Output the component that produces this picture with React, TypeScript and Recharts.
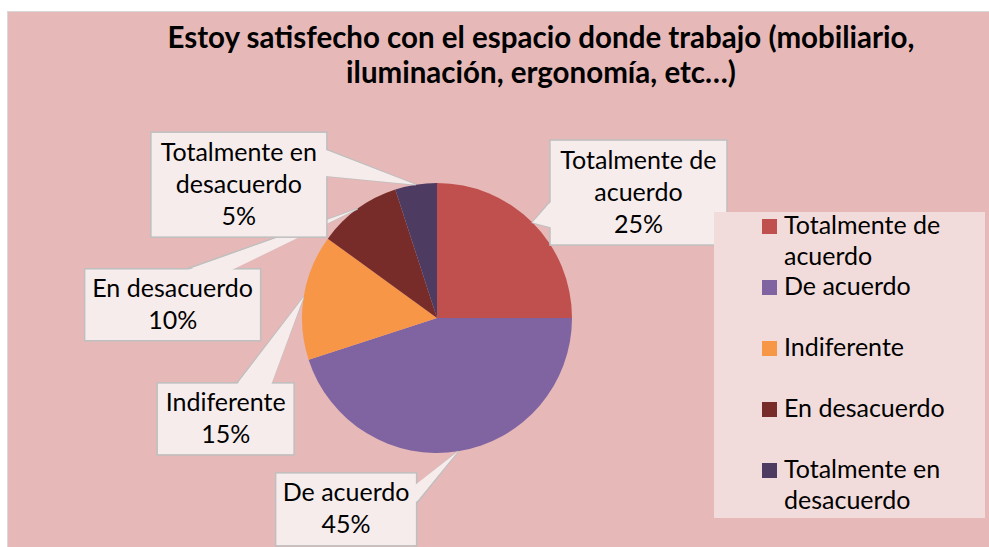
import { PieChart, Pie, Cell, Legend } from 'recharts';

const categories = ['Totalmente de acuerdo', 'De acuerdo', 'Indiferente', 'En desacuerdo', 'Totalmente en desacuerdo'];
const values = [25, 45, 15, 10, 5];
const categoryLines = [['Totalmente de', 'acuerdo'], ['De acuerdo'], ['Indiferente'], ['En desacuerdo'], ['Totalmente en', 'desacuerdo']];
const colors = ['#C0504D', '#8064A2', '#F79646', '#772C2A', '#4D3B62'];
const titleLines = ['Estoy satisfecho con el espacio donde trabajo (mobiliario,', 'iluminación, ergonomía, etc…)'];

const data = categories.map((name, i) => ({ name, value: values[i] }));

// callout box placement relative to the point on the slice edge
const callouts = [
  { dx: 106, dy: -30, w: 177, h: 105, side: 'left', at: 0.583 },
  { dx: -112, dy: 58, w: 141, h: 73, side: 'right', at: 0.167 },
  { dx: -78, dy: 122, w: 137, h: 72, side: 'top', at: 0.583 },
  { dx: -185, dy: 96, w: 176, h: 72, side: 'top', at: 0.583 },
  { dx: -177, dy: 0, w: 176, h: 105, side: 'right', at: 0.167 },
];

const FONT = 'Lato, "Open Sans", sans-serif';
const RAD = Math.PI / 180;
const BOX_FILL = '#F6ECEC';
const BOX_STROKE = '#BFBFBF';

function renderLabel(props: any) {
  const { cx, cy, midAngle, outerRadius, index, percent } = props;
  const tx = cx + outerRadius * Math.cos(-midAngle * RAD);
  const ty = cy + outerRadius * Math.sin(-midAngle * RAD);
  const c = callouts[index];
  const left = tx + c.dx - c.w / 2;
  const top = ty + c.dy - c.h / 2;
  let b1: number[], b2: number[], i1: number[], i2: number[];
  if (c.side === 'left') {
    const y1 = top + c.at * c.h, y2 = top + (c.at + 0.25) * c.h;
    b1 = [left, y1]; b2 = [left, y2]; i1 = [left + 1.5, y1]; i2 = [left + 1.5, y2];
  } else if (c.side === 'right') {
    const y1 = top + c.at * c.h, y2 = top + (c.at + 0.25) * c.h;
    b1 = [left + c.w, y1]; b2 = [left + c.w, y2]; i1 = [left + c.w - 1.5, y1]; i2 = [left + c.w - 1.5, y2];
  } else {
    const x1 = left + c.at * c.w, x2 = left + (c.at + 0.25) * c.w;
    b1 = [x1, top]; b2 = [x2, top]; i1 = [x1, top + 1.5]; i2 = [x2, top + 1.5];
  }
  const lines = [...categoryLines[index], `${Math.round(percent * 100)}%`];
  const midY = top + c.h / 2;
  return (
    <g key={`callout-${index}`}>
      <polygon points={`${tx},${ty} ${b1.join(',')} ${b2.join(',')}`} fill={BOX_FILL} stroke={BOX_STROKE} strokeWidth={1.5} />
      <rect x={left} y={top} width={c.w} height={c.h} fill={BOX_FILL} stroke={BOX_STROKE} strokeWidth={1.5} />
      <polygon points={`${tx},${ty} ${i1.join(',')} ${i2.join(',')}`} fill={BOX_FILL} stroke="none" />
      {lines.map((ln, k) => (
        <text key={k} x={left + c.w / 2} y={midY + 8 + (k - (lines.length - 1) / 2) * 32}
          textAnchor="middle" fontFamily={FONT} fontSize={25} fill="#000">{ln}</text>
      ))}
    </g>
  );
}

// legend drawn in a slightly taller svg so the text boxes stay inside it
function LegendBox() {
  const pad = 12;
  return (
    <svg width={271} height={306 + 2 * pad} style={{ display: 'block', overflow: 'visible' }}>
      <rect x={0} y={pad} width={271} height={306} fill="#F2DCDB" />
      {categories.map((name, i) => {
        const top = pad + 7 + i * 61;
        return (
          <g key={name}>
            <rect x={48} y={top} width={15} height={15} fill={colors[i]} />
            {categoryLines[i].map((ln, k) => (
              <text key={k} x={70} y={top + 15 + k * 31} fontFamily={FONT} fontSize={25} fill="#000">{ln}</text>
            ))}
          </g>
        );
      })}
    </svg>
  );
}

export default function App() {
  return (
    <div style={{ position: 'absolute', left: 0, top: 0, width: 989, height: 547, background: '#fff', overflow: 'hidden' }}>
      <svg width={989} height={547} style={{ position: 'absolute', left: 0, top: 0 }}>
        <rect x={7.5} y={11.5} width={1000} height={560} fill="#E6B9B8" stroke="#D9D9D9" strokeWidth={1} />
        {titleLines.map((t, i) => (
          <text key={i} x={541} y={48 + i * 35} textAnchor="middle" fontFamily={FONT} fontWeight="bold" fontSize={29.5} fill="#000">{t}</text>
        ))}
      </svg>
      <div style={{ position: 'absolute', left: 0, top: 0 }}>
        <PieChart width={989} height={547} margin={{ top: 0, right: 0, bottom: 0, left: 0 }}>
          <Pie data={data} dataKey="value" nameKey="name" cx={437} cy={318} outerRadius={135}
            startAngle={90} endAngle={-270} stroke="none" label={renderLabel} labelLine={false}
            isAnimationActive={false}>
            {data.map((d, i) => <Cell key={d.name} fill={colors[i]} />)}
          </Pie>
          <Legend layout="vertical" content={<LegendBox />}
            wrapperStyle={{ position: 'absolute', left: 714, top: 200, width: 271, height: 330 }} />
        </PieChart>
      </div>
    </div>
  );
}
